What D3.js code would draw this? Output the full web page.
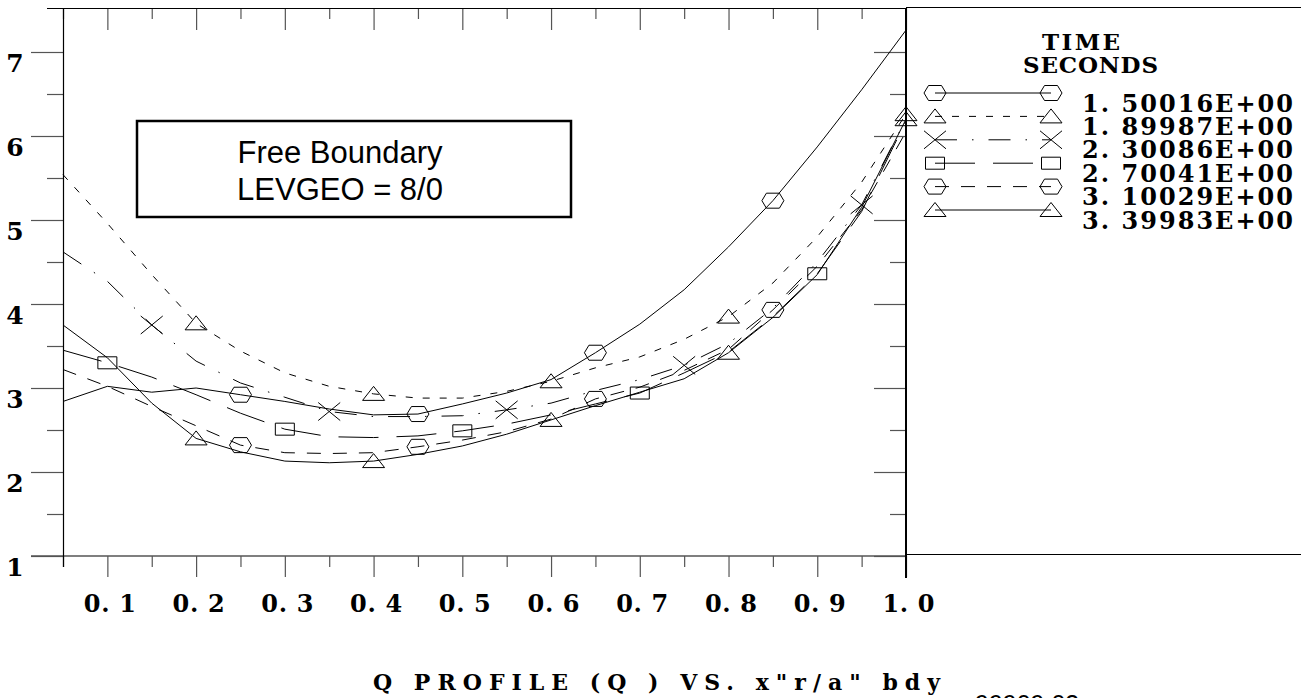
<!DOCTYPE html>
<html>
<head>
<meta charset="utf-8">
<script src="https://cdn.jsdelivr.net/npm/d3@7"></script>
<style>
  body { margin: 0; background: #fff; }
  svg { display: block; }
</style>
</head>
<body>
<svg></svg>
<script>
var width = 1301;
var height = 698;

// r/a grid points (x axis)
var xs = [0.05, 0.10, 0.15, 0.20, 0.25, 0.30, 0.35, 0.40, 0.45, 0.50,
          0.55, 0.60, 0.65, 0.70, 0.75, 0.80, 0.85, 0.90, 0.95, 1.00];

// Q profile at each time slice
var q150016 = [2.84, 3.02, 2.95, 3.00, 2.92, 2.84, 2.75, 2.68, 2.69, 2.81,
               2.94, 3.10, 3.42, 3.76, 4.17, 4.68, 5.23, 5.87, 6.55, 7.26];
var q189987 = [5.54, 4.96, 4.35, 3.77, 3.44, 3.18, 3.02, 2.93, 2.88, 2.88,
               2.96, 3.08, 3.24, 3.37, 3.58, 3.85, 4.25, 4.80, 5.45, 6.26];
var q230086 = [4.62, 4.27, 3.75, 3.32, 3.06, 2.89, 2.72, 2.66, 2.66, 2.67,
               2.74, 2.82, 2.97, 3.10, 3.27, 3.53, 3.95, 4.50, 5.18, 6.20];
var q270041 = [3.45, 3.30, 3.13, 2.92, 2.70, 2.51, 2.42, 2.41, 2.43, 2.49,
               2.57, 2.68, 2.81, 2.94, 3.18, 3.43, 3.85, 4.36, 5.10, 6.18];
var q310029 = [3.22, 3.02, 2.78, 2.55, 2.32, 2.23, 2.22, 2.23, 2.30, 2.38,
               2.48, 2.63, 2.87, 3.01, 3.21, 3.46, 3.93, 4.45, 5.12, 6.05];
var q339983 = [3.75, 3.36, 2.82, 2.40, 2.24, 2.13, 2.11, 2.13, 2.21, 2.31,
               2.45, 2.62, 2.79, 2.95, 3.11, 3.42, 3.84, 4.35, 5.15, 6.20];

var timeLabels = ["1. 50016E+00", "1. 89987E+00", "2. 30086E+00",
                  "2. 70041E+00", "3. 10029E+00", "3. 39983E+00"];

// where each curve carries its symbol
var markAt1 = [0.25, 0.45, 0.65, 0.85];
var markAt2 = [0.20, 0.40, 0.60, 0.80, 1.00];
var markAt3 = [0.15, 0.35, 0.55, 0.75, 0.95];
var markAt4 = [0.10, 0.30, 0.50, 0.70, 0.90];
var markAt5 = [0.25, 0.45, 0.65, 0.85];
var markAt6 = [0.20, 0.40, 0.60, 0.80, 1.00];

var xMajor = [0.1, 0.2, 0.3, 0.4, 0.5, 0.6, 0.7, 0.8, 0.9, 1.0];
var xMinor = [0.05, 0.15, 0.25, 0.35, 0.45, 0.55, 0.65, 0.75, 0.85, 0.95];
var yMajor = [1, 2, 3, 4, 5, 6, 7];
var yMinor = [1.5, 2.5, 3.5, 4.5, 5.5, 6.5];

var series = [
  {values: q150016, marks: markAt1, dash: null,           symbol: "hex"},
  {values: q189987, marks: markAt2, dash: "7,10",         symbol: "tri"},
  {values: q230086, marks: markAt3, dash: "22,15,1.5,15", symbol: "x"},
  {values: q270041, marks: markAt4, dash: "40,18",        symbol: "square"},
  {values: q310029, marks: markAt5, dash: "14,12",        symbol: "hex"},
  {values: q339983, marks: markAt6, dash: null,           symbol: "tri"}
];

// plot box edges (note: "top" is taken by window.top)
var plotL = 63, plotR = 906, plotT = 8, plotB = 556;

var xScale = d3.scaleLinear().domain([0.05, 1.0]).range([plotL, plotR]);
var yScale = d3.scaleLinear().domain([1, 7]).range([plotB, 52]);

var svg = d3.select("svg")
    .attr("width", width)
    .attr("height", height);

var serif = "'DejaVu Serif', serif";

// symbol paths centred on 0,0
function symbolPath(kind) {
  if (kind === "hex") return "M-11,0L-6.5,-7.5L6.5,-7.5L11,0L6.5,7.5L-6.5,7.5Z";
  if (kind === "tri") return "M0,-7.5L11,6.5L-11,6.5Z";
  if (kind === "x") return "M-11,-9L11,9M-11,9L11,-9";
  if (kind === "square") return "M-9.5,-6L9.5,-6L9.5,6L-9.5,6Z";
}

// ---- axes ----
function styleAxis(g) {
  g.select(".domain").remove();
  g.selectAll(".tick line").attr("stroke", "#555").attr("stroke-width", 1.2);
}

svg.append("g")
    .attr("transform", "translate(0," + plotB + ")")
    .call(d3.axisBottom(xScale).tickValues(xMinor).tickSize(11).tickFormat(""))
    .call(styleAxis);

var xAxisG = svg.append("g")
    .attr("transform", "translate(0," + plotB + ")")
    .call(d3.axisBottom(xScale).tickValues(xMajor).tickSize(21)
          .tickFormat(function(d) { return d.toFixed(1).replace(".", ". "); }))
    .call(styleAxis);
xAxisG.selectAll("text")
    .attr("y", 56).attr("dy", 0).attr("x", 2)
    .attr("fill", "#000")
    .style("font-family", serif)
    .style("font-size", "24px")
    .style("font-weight", "bold")
    .attr("textLength", 52)
    .attr("lengthAdjust", "spacing");

// top ticks point inward
svg.append("g")
    .attr("transform", "translate(0," + plotT + ")")
    .call(d3.axisBottom(xScale).tickValues(xMinor).tickSize(11).tickFormat(""))
    .call(styleAxis);
svg.append("g")
    .attr("transform", "translate(0," + plotT + ")")
    .call(d3.axisBottom(xScale).tickValues(xMajor).tickSize(22).tickFormat(""))
    .call(styleAxis);

svg.append("g")
    .attr("transform", "translate(" + plotL + ",0)")
    .call(d3.axisLeft(yScale).tickValues(yMinor).tickSize(16).tickFormat(""))
    .call(styleAxis);
var yAxisG = svg.append("g")
    .attr("transform", "translate(" + plotL + ",0)")
    .call(d3.axisLeft(yScale).tickValues(yMajor).tickSize(32).tickFormat(d3.format("d")))
    .call(styleAxis);
yAxisG.selectAll("text")
    .attr("x", -48).attr("dy", 0).attr("y", 19)
    .attr("text-anchor", "middle")
    .attr("fill", "#000")
    .style("font-family", serif)
    .style("font-size", "25px")
    .style("font-weight", "bold");

svg.append("g")
    .attr("transform", "translate(" + plotR + ",0)")
    .call(d3.axisRight(yScale).tickValues(yMinor).tickSize(-16).tickFormat(""))
    .call(styleAxis);
svg.append("g")
    .attr("transform", "translate(" + plotR + ",0)")
    .call(d3.axisRight(yScale).tickValues(yMajor).tickSize(-32).tickFormat(""))
    .call(styleAxis);

// frame
var frame = svg.append("g").attr("stroke", "#000").attr("fill", "none");
frame.append("line").attr("x1", 47).attr("x2", plotR).attr("y1", plotT + 0.5).attr("y2", plotT + 0.5).attr("stroke-width", 1.2);
frame.append("line").attr("x1", 31).attr("x2", plotR).attr("y1", plotB).attr("y2", plotB).attr("stroke", "#555").attr("stroke-width", 1.5);
frame.append("line").attr("x1", plotL + 0.5).attr("x2", plotL + 0.5).attr("y1", plotT).attr("y2", plotB + 11).attr("stroke-width", 1.2);
frame.append("line").attr("x1", plotR).attr("x2", plotR).attr("y1", plotT).attr("y2", plotB + 22).attr("stroke-width", 2);

// legend panel
frame.append("line").attr("x1", plotR).attr("x2", width).attr("y1", 7.5).attr("y2", 7.5).attr("stroke-width", 1.2);
frame.append("line").attr("x1", plotR).attr("x2", width).attr("y1", plotB - 1.5).attr("y2", plotB - 1.5).attr("stroke-width", 1.2);

// ---- curves ----
var line = d3.line()
    .x(function(d) { return xScale(d[0]); })
    .y(function(d) { return yScale(d[1]); });

series.forEach(function(s) {
  var pts = xs.map(function(x, i) { return [x, s.values[i]]; });
  svg.append("path")
      .datum(pts)
      .attr("d", line)
      .attr("fill", "none")
      .attr("stroke", "#000")
      .attr("stroke-width", 1)
      .attr("stroke-dasharray", s.dash);

  svg.selectAll(null)
      .data(s.marks)
      .enter()
      .append("path")
      .attr("transform", function(m) {
        var i = xs.findIndex(function(x) { return Math.abs(x - m) < 1e-6; });
        return "translate(" + xScale(m) + "," + yScale(s.values[i]) + ")";
      })
      .attr("d", symbolPath(s.symbol))
      .attr("fill", "none")
      .attr("stroke", "#000")
      .attr("stroke-width", 1);
});

// ---- annotation box ----
svg.append("rect")
    .attr("x", 137).attr("y", 121).attr("width", 434).attr("height", 96)
    .attr("fill", "none").attr("stroke", "#000").attr("stroke-width", 2.5);
svg.append("text")
    .attr("x", 340).attr("y", 163)
    .attr("text-anchor", "middle")
    .style("font-family", "'Liberation Sans', Arial, sans-serif")
    .style("font-size", "31px")
    .text("Free Boundary");
svg.append("text")
    .attr("x", 340).attr("y", 200)
    .attr("text-anchor", "middle")
    .style("font-family", "'Liberation Sans', Arial, sans-serif")
    .style("font-size", "31px")
    .text("LEVGEO = 8/0");

// ---- legend ----
svg.append("text")
    .attr("x", 1042).attr("y", 50)
    .attr("textLength", 78).attr("lengthAdjust", "spacing")
    .style("font-family", serif).style("font-size", "23px").style("font-weight", "bold")
    .text("TIME");
svg.append("text")
    .attr("x", 1023).attr("y", 73)
    .attr("textLength", 135).attr("lengthAdjust", "spacing")
    .style("font-family", serif).style("font-size", "23px").style("font-weight", "bold")
    .text("SECONDS");

var legendY = d3.scaleLinear().domain([0, 5]).range([93, 210]);
var legend = svg.append("g");
series.forEach(function(s, i) {
  var y = legendY(i);
  legend.append("line")
      .attr("x1", 935).attr("x2", 1051).attr("y1", y).attr("y2", y)
      .attr("stroke", "#000").attr("stroke-width", 1)
      .attr("stroke-dasharray", s.dash);
  [935, 1051].forEach(function(x) {
    legend.append("path")
        .attr("transform", "translate(" + x + "," + y + ")")
        .attr("d", symbolPath(s.symbol))
        .attr("fill", "none")
        .attr("stroke", "#000");
  });
  legend.append("text")
      .attr("x", 1082).attr("y", y + 18.5)
      .attr("textLength", 211).attr("lengthAdjust", "spacing")
      .style("font-family", serif).style("font-size", "24px").style("font-weight", "bold")
      .text(timeLabels[i]);
});

// ---- title ----
svg.append("text")
    .attr("x", 373).attr("y", 690)
    .attr("textLength", 567).attr("lengthAdjust", "spacing")
    .style("font-family", serif).style("font-size", "22px").style("font-weight", "bold")
    .text("Q PROFILE (Q ) VS. x\"r/a\" bdy");

svg.append("text")
    .attr("x", 975).attr("y", 713)
    .style("font-family", "'Liberation Sans', Arial, sans-serif")
    .style("font-size", "25px")
    .text("99909  03");
</script>
</body>
</html>
